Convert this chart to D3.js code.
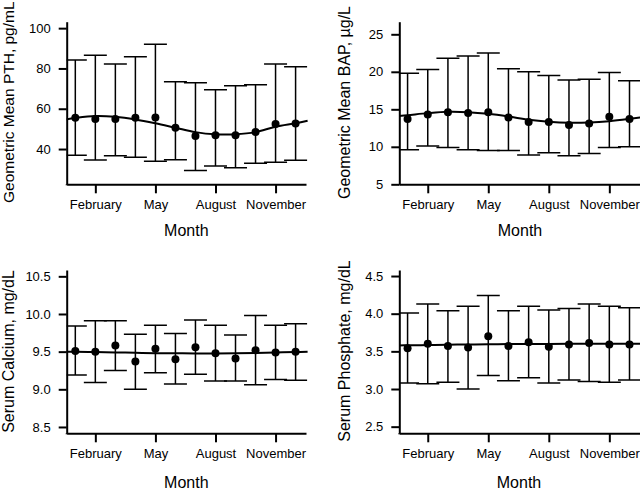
<!DOCTYPE html>
<html><head><meta charset="utf-8">
<script src="https://cdn.jsdelivr.net/npm/d3@7"></script>
<style>
body{margin:0;background:#fff;}
text{font-family:"Liberation Sans",Arial,sans-serif;fill:#000;}
</style></head>
<body><svg id="c" width="640" height="489"></svg>
<script>
const months = [1,2,3,4,5,6,7,8,9,10,11,12];
const xTickMonths = [2,5,8,11];
const xTickLabels = ["February","May","August","November"];
const fitMonths = [0.5,1,2,3,4,5,6,7,8,9,10,11,12,12.6];

const pthMean  = [55.5,54.9,54.9,55.5,55.7,50.6,46.5,46.8,46.8,48.4,52.4,52.7];
const pthUpper = [84.2,86.6,82.2,85.8,92.0,73.4,72.9,69.4,71.4,71.9,82.2,80.9];
const pthLower = [36.9,34.5,36.7,35.9,34.0,34.7,29.4,31.6,30.7,32.9,33.4,34.4];
const pthFit   = [54.6,55.4,56.4,56.0,54.7,52.8,50.6,48.4,47.3,47.3,48.4,51.1,52.8,54.0];
const pthTicks = [40,60,80,100];

const bapMean  = [13.7,14.3,14.6,14.5,14.6,13.9,13.3,13.3,12.9,13.1,14.0,13.7];
const bapUpper = [19.8,20.3,21.8,22.1,22.5,20.4,20.0,19.5,18.9,19.0,19.9,18.8];
const bapLower = [9.6,10.1,9.9,9.6,9.5,9.5,8.9,9.2,8.8,9.1,9.9,10.0];
const bapFit   = [14.1,14.22,14.49,14.67,14.62,14.4,14.04,13.6,13.33,13.2,13.24,13.42,13.73,13.95];
const bapTicks = [5,10,15,20,25];

const caMean  = [9.51,9.50,9.58,9.37,9.54,9.40,9.56,9.48,9.41,9.52,9.49,9.50];
const caUpper = [9.84,9.91,9.91,9.73,9.85,9.74,9.92,9.85,9.72,9.98,9.85,9.87];
const caLower = [9.19,9.09,9.25,9.00,9.22,9.07,9.20,9.11,9.11,9.06,9.13,9.12];
const caFit   = [9.50,9.50,9.495,9.49,9.485,9.48,9.478,9.476,9.476,9.478,9.483,9.49,9.495,9.50];
const caTicks = [8.5,9.0,9.5,10.0,10.5];

const poMean  = [3.54,3.60,3.57,3.55,3.70,3.57,3.62,3.56,3.59,3.61,3.59,3.59];
const poUpper = [4.01,4.13,4.04,4.10,4.24,4.04,4.10,4.05,4.07,4.13,4.10,4.08];
const poLower = [3.08,3.07,3.09,3.00,3.18,3.11,3.15,3.08,3.12,3.10,3.09,3.12];
const poFit   = [3.579,3.58,3.584,3.588,3.591,3.594,3.596,3.598,3.599,3.6,3.6,3.6,3.6,3.6];
const poTicks = [2.5,3.0,3.5,4.0,4.5];

const panels = [
  {id:"p1", mean:pthMean, up:pthUpper, lo:pthLower, fit:pthFit, ticks:pthTicks, fmt:d3.format("d"),
   ydom:[22.5,103.2], x0:66.7, x1:306, y0:21.7, y1:184.3, xdom:[0.57,12.52],
   ylabel:"Geometric Mean PTH, pg/mL", ylx:13.5, yly:203, ylanchor:"start", ylsize:15.5, mx:186.3, my:236},
  {id:"p2", mean:bapMean, up:bapUpper, lo:bapLower, fit:bapFit, ticks:bapTicks, fmt:d3.format("d"),
   ydom:[5,26.68], x0:399.3, x1:640.6, y0:21.7, y1:184.3, xdom:[0.59,12.55],
   ylabel:"Geometric Mean BAP, \u00b5g/L", ylx:349.5, yly:199, ylanchor:"start", ylsize:16, mx:520, my:235.5},
  {id:"p3", mean:caMean, up:caUpper, lo:caLower, fit:caFit, ticks:caTicks, fmt:d3.format(".1f"),
   ydom:[8.416,10.584], x0:66.7, x1:306, y0:270, y1:433.3, xdom:[0.57,12.52],
   ylabel:"Serum Calcium, mg/dL", ylx:13.5, yly:351.5, ylanchor:"middle", ylsize:16, mx:186.3, my:487.5},
  {id:"p4", mean:poMean, up:poUpper, lo:poLower, fit:poFit, ticks:poTicks, fmt:d3.format(".1f"),
   ydom:[2.412,4.58], x0:399.3, x1:640.6, y0:270, y1:433.3, xdom:[0.59,12.55],
   ylabel:"Serum Phosphate, mg/dL", ylx:350, yly:351, ylanchor:"middle", ylsize:16, mx:519, my:487.5}
];

const svg = d3.select("#c");
const capHalf = 11.5;

panels.forEach(p => {
  const x = d3.scaleLinear().domain(p.xdom).range([p.x0, p.x1]);
  const y = d3.scaleLinear().domain(p.ydom).range([p.y1, p.y0]);
  const g = svg.append("g");

  g.append("clipPath").attr("id","clip-"+p.id).append("rect")
    .attr("x", p.x0).attr("y", p.y0 - 20).attr("width", p.x1 - p.x0 + 5).attr("height", p.y1 - p.y0 + 20);
  const plot = g.append("g").attr("clip-path","url(#clip-"+p.id+")");

  const data = months.map((m,i)=>({m, mean:p.mean[i], up:p.up[i], lo:p.lo[i]}));

  plot.selectAll("line.w").data(data).enter().append("line")
    .attr("x1", d=>x(d.m)).attr("x2", d=>x(d.m))
    .attr("y1", d=>y(d.up)).attr("y2", d=>y(d.lo))
    .attr("stroke","#000").attr("stroke-width",1.5);
  ["up","lo"].forEach(k=>{
    plot.selectAll("line.c"+k).data(data).enter().append("line")
      .attr("x1", d=>x(d.m)-capHalf).attr("x2", d=>x(d.m)+capHalf)
      .attr("y1", d=>y(d[k])).attr("y2", d=>y(d[k]))
      .attr("stroke","#000").attr("stroke-width",1.5);
  });

  const line = d3.line().x((d,i)=>x(fitMonths[i])).y(d=>y(d)).curve(d3.curveCatmullRom.alpha(0.5));
  plot.append("path").datum(p.fit).attr("d", line)
    .attr("fill","none").attr("stroke","#000").attr("stroke-width",2);

  plot.selectAll("circle").data(data).enter().append("circle")
    .attr("cx", d=>x(d.m)).attr("cy", d=>y(d.mean)).attr("r",4).attr("fill","#000");

  const ya = d3.axisLeft(y).tickValues(p.ticks).tickFormat(p.fmt).tickSize(8).tickSizeOuter(0).tickPadding(8);
  const yg = g.append("g").attr("transform",`translate(${p.x0},0)`).call(ya);
  const xa = d3.axisBottom(x).tickValues(xTickMonths).tickFormat((d,i)=>xTickLabels[i]).tickSize(9).tickSizeOuter(0).tickPadding(6.5);
  const xg = g.append("g").attr("transform",`translate(0,${p.y1})`).call(xa);
  [yg,xg].forEach(a=>{
    a.select(".domain").attr("stroke","#000").attr("stroke-width",2);
    a.selectAll(".tick line").attr("stroke","#000").attr("stroke-width",2);
    a.selectAll(".tick text").attr("font-size",13).attr("font-family","Liberation Sans, Arial, sans-serif").attr("fill","#000");
  });
  g.append("line").attr("x1",p.x0).attr("x2",p.x0).attr("y1",p.y1).attr("y2",p.y1+1).attr("stroke","#000").attr("stroke-width",2);

  g.append("text").attr("transform",`translate(${p.ylx},${p.yly}) rotate(-90)`)
    .attr("text-anchor",p.ylanchor).attr("font-size",p.ylsize).text(p.ylabel);
  g.append("text").attr("x",p.mx).attr("y",p.my).attr("text-anchor","middle").attr("font-size",16).text("Month");
});
</script></body></html>
